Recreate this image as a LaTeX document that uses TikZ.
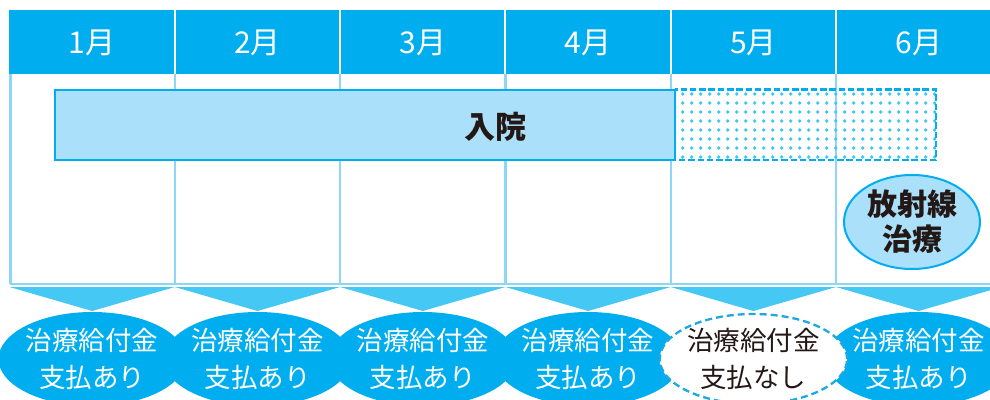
\documentclass[tikz,border=0pt]{standalone}
\usepackage{fontspec}
\usetikzlibrary{shapes.geometric}
\newfontfamily\jp{Noto Sans CJK JP}
\definecolor{hdr}{HTML}{00AEEF}
\definecolor{barc}{HTML}{AAE0FA}
\definecolor{gridc}{HTML}{8ED6F5}
\definecolor{tric}{HTML}{45C8F4}
\definecolor{dotc}{HTML}{3EC6F4}
\definecolor{dashc}{HTML}{1EA8E2}
\definecolor{ink}{HTML}{231815}
\tikzset{
  month/.style={text=white, font=\jp\fontsize{30}{32}\selectfont, inner sep=0pt},
  payyes/.style={ellipse, fill=hdr, minimum width=164pt, minimum height=94pt, inner sep=0pt,
     text=white, align=center, font=\jp\fontsize{26.5}{37}\selectfont},
  payno/.style={ellipse, fill=white, draw=dashc, line width=2.3pt, dash pattern=on 7pt off 4pt,
     minimum width=158pt, minimum height=90pt, inner sep=0pt,
     text=ink, align=center, font=\jp\fontsize{26.5}{37}\selectfont},
  radio/.style={ellipse, fill=barc, draw=hdr, line width=2pt, minimum width=136pt, minimum height=94pt,
     inner sep=0pt, text=ink, align=center, font=\jp\bfseries\fontsize{30}{35}\selectfont},
}
\begin{document}
\begin{tikzpicture}[x=1pt,y=-1pt]
\useasboundingbox (0,0) rectangle (990,399);
% header band
\fill[hdr] (9,10) rectangle (990,74);
\foreach \i in {1,...,5}{
  \draw[white, line width=2pt] ({9.5+165.3*\i},10) -- ({9.5+165.3*\i},74);
}
% grid lines
\draw[gridc, line width=2.2pt] (10.5,74) -- (10.5,284);
\foreach \i in {1,...,5}{
  \draw[gridc, line width=2.2pt] ({9.5+165.3*\i},74) -- ({9.5+165.3*\i},284);
}
\draw[gridc, line width=2.2pt] (9.5,284) -- (990,284);
% month labels
\foreach \i/\t in {0/1月,1/2月,2/3月,3/4月,4/5月,5/6月}{
  \node[month] (m\i) at ({92.2+165.3*\i},43) {\t};
}
% triangles
\foreach \i in {0,...,5}{
  \fill[tric] ({9.5+165.3*\i},287) -- ({92.2+165.3*\i},311) -- ({174.8+165.3*\i},287) -- cycle;
}
% hospital stay bar
\draw[fill=barc, draw=hdr, line width=2pt] (55,89.5) rectangle (675,160);
\node[text=ink, font=\jp\bfseries\fontsize{31}{34}\selectfont, inner sep=0pt] (stay) at (495,127) {入院};
% dotted extension
\begin{scope}
  \clip (675,89.5) rectangle (936,160);
  \foreach \c in {0,...,28}{
    \foreach \r in {0,...,7}{
      \fill[dotc] ({682.7+9*\c},{94+9*\r}) circle (1.8);
    }
  }
\end{scope}
\draw[hdr, line width=2.2pt, dash pattern=on 6.5pt off 2.8pt] (675,89.5) rectangle (936,160);
% radiation therapy
\node[radio] (rad) at (912,222) {放射線\\治療};
% payment ellipses
\foreach \i in {0,1,2,3,5}{
  \node[payyes] (p\i) at ({92.2+165.3*\i},359) {治療給付金\\支払あり};
}
\node[payno] (p4) at ({92.2+165.3*4},359) {治療給付金\\支払なし};
\end{tikzpicture}
\end{document}
